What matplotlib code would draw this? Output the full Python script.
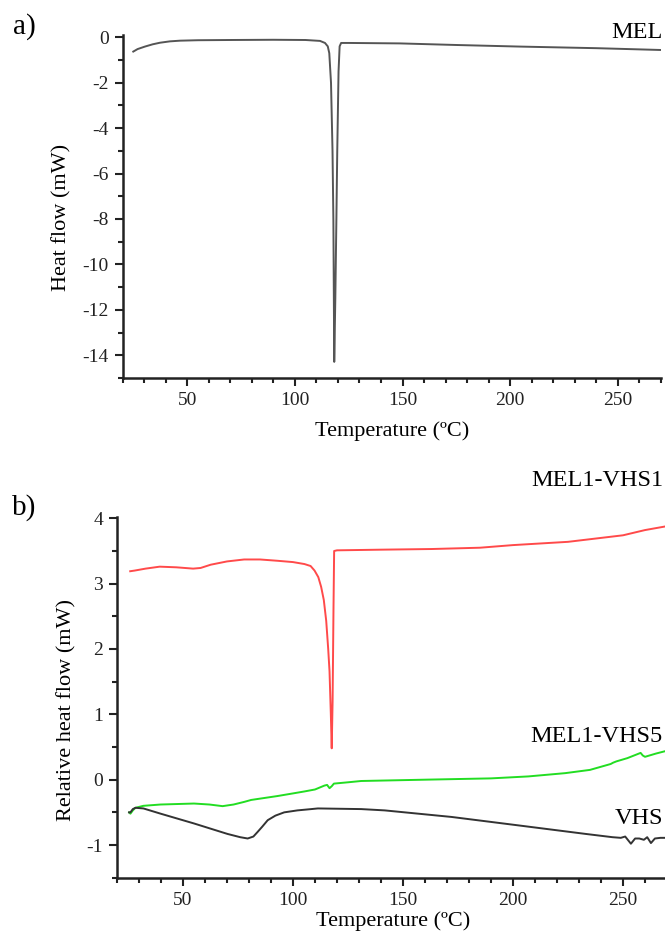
import matplotlib
matplotlib.use("Agg")
import matplotlib.pyplot as plt
from matplotlib.ticker import MultipleLocator

plt.rcParams['font.family'] = ['Liberation Serif', 'DejaVu Serif']
plt.rcParams['axes.unicode_minus'] = False

# ---- Panel a: MEL ----
mel_T = [25, 27, 30.4, 34, 37.4, 42, 46.7, 55, 70, 90, 105, 111.7, 114, 115.3, 116.0, 116.8,
         117.5, 117.9, 118.3, 118.8, 119.3, 119.7, 120.3, 120.8, 121.5, 125, 148.8, 175, 204.6, 240, 270]
mel_v = [-0.63, -0.52, -0.41, -0.31, -0.24, -0.18, -0.15, -0.13, -0.12, -0.11, -0.12, -0.16, -0.25, -0.4, -0.7, -2.0,
         -5.0, -8.05, -14.29, -11.5, -8.0, -5.0, -1.5, -0.4, -0.25, -0.25, -0.27, -0.34, -0.41, -0.48, -0.56]

# ---- Panel b ----
vhs1_T = [26, 28, 33, 39.4, 47, 54.6, 58, 62.6, 70, 77.8, 85, 93, 100, 105.2, 108, 109.8, 111.5, 112.8, 114, 115.1,
          116.0, 116.6, 117.2, 117.6, 118.0, 118.4, 118.7, 120, 140, 163, 185, 200, 225, 250, 260, 270]
vhs1_v = [3.19, 3.2, 3.23, 3.26, 3.25, 3.23, 3.24, 3.29, 3.34, 3.37, 3.37, 3.35, 3.33, 3.30, 3.27, 3.2, 3.1, 2.95, 2.75,
          2.43, 2.0, 1.66, 1.0, 0.48, 1.2, 2.6, 3.5, 3.51, 3.52, 3.53, 3.55, 3.59, 3.64, 3.74, 3.82, 3.88]

vhs5_T = [25.5, 26.1, 27.2, 28.4, 32, 39.8, 55, 62, 68, 73, 77.8, 81, 93, 100, 105.2, 110, 114.3, 115.5, 116.6, 117.6,
          118.6, 125, 131, 160, 190, 207, 223.7, 235, 244.4, 245.5, 247, 252, 258, 259, 260, 265, 269.6]
vhs5_v = [-0.5, -0.52, -0.47, -0.43, -0.4, -0.38, -0.365, -0.38, -0.405, -0.38, -0.34, -0.31, -0.25, -0.21, -0.18, -0.15,
          -0.09, -0.08, -0.13, -0.10, -0.06, -0.04, -0.02, 0.0, 0.02, 0.05, 0.10, 0.15, 0.24, 0.26, 0.28, 0.33, 0.41, 0.37,
          0.35, 0.40, 0.44]

vhs_T = [25.5, 26.1, 27.2, 28.4, 32, 39.8, 55, 70.2, 76, 79.4, 82, 83.9, 86, 88.5, 92, 96, 102, 108.3, 111.3, 131, 141.7,
         172, 202.6, 233, 245.2, 249, 251, 253.6, 255.5, 257.4, 259.5, 261, 262.7, 264.5, 267, 269.6]
vhs_v = [-0.5, -0.5, -0.45, -0.43, -0.44, -0.52, -0.67, -0.83, -0.88, -0.90, -0.87, -0.80, -0.72, -0.62, -0.55, -0.50,
         -0.47, -0.45, -0.44, -0.45, -0.47, -0.57, -0.70, -0.83, -0.88, -0.89, -0.87, -0.98, -0.90, -0.90, -0.92, -0.88,
         -0.97, -0.90, -0.89, -0.89]

W, H = 665, 939
fig = plt.figure(figsize=(W / 100, H / 100), dpi=100)

def px(x, y):
    return x / W, 1 - y / H

def style(ax):
    for s in ['top', 'right']:
        ax.spines[s].set_visible(False)
    for s in ['left', 'bottom']:
        ax.spines[s].set_linewidth(1.8)
        ax.spines[s].set_color('#222222')
    ax.tick_params(which='major', direction='out', length=6, width=1.5, labelsize=14, colors='#222222', pad=4)
    ax.tick_params(which='minor', direction='out', length=3.5, width=1.5, colors='#222222')
    ax.xaxis.set_major_locator(MultipleLocator(50))
    ax.xaxis.set_minor_locator(MultipleLocator(10))

# panel a
axa = fig.add_axes([122.5 / W, 1 - 378 / H, (661 - 122.5) / W, (378 - 35) / H])
axa.plot(mel_T, mel_v, color='#555555', lw=1.4)
axa.set_xlim(20, 270)
axa.set_ylim(-15, 0.1)
style(axa)
axa.yaxis.set_major_locator(MultipleLocator(2))
axa.yaxis.set_minor_locator(MultipleLocator(1))
fig.text(*px(392, 431), 'Temperature (ºC)', fontsize=16, ha='center', va='center')
fig.text(*px(62, 217), 'Heat flow (mW)', fontsize=16, ha='center', va='center', rotation=90)
fig.text(*px(663, 33), 'MEL', fontsize=17.5, ha='right', va='center')
fig.text(*px(13, 27), 'a)', fontsize=21, ha='left', va='center')

# panel b
axb = fig.add_axes([117 / W, 1 - 877.7 / H, (667 - 117) / W, (877.7 - 517) / H])
axb.plot(vhs1_T, vhs1_v, color='#ff4a4a', lw=1.4)
axb.plot(vhs5_T, vhs5_v, color='#22dd22', lw=1.4)
axb.plot(vhs_T, vhs_v, color='#333333', lw=1.4)
axb.set_xlim(20, 270)
axb.set_ylim(-1.5, 4.02)
style(axb)
axb.yaxis.set_major_locator(MultipleLocator(1))
axb.yaxis.set_minor_locator(MultipleLocator(0.5))
fig.text(*px(393, 921), 'Temperature (ºC)', fontsize=16, ha='center', va='center')
fig.text(*px(67, 710), 'Relative heat flow (mW)', fontsize=16, ha='center', va='center', rotation=90)
fig.text(*px(663, 480), 'MEL1-VHS1', fontsize=17.5, ha='right', va='center')
fig.text(*px(663, 736), 'MEL1-VHS5', fontsize=17.5, ha='right', va='center')
fig.text(*px(663, 818), 'VHS', fontsize=17.5, ha='right', va='center')
fig.text(*px(12, 508), 'b)', fontsize=21, ha='left', va='center')

fig.savefig('out.png', dpi=100)
